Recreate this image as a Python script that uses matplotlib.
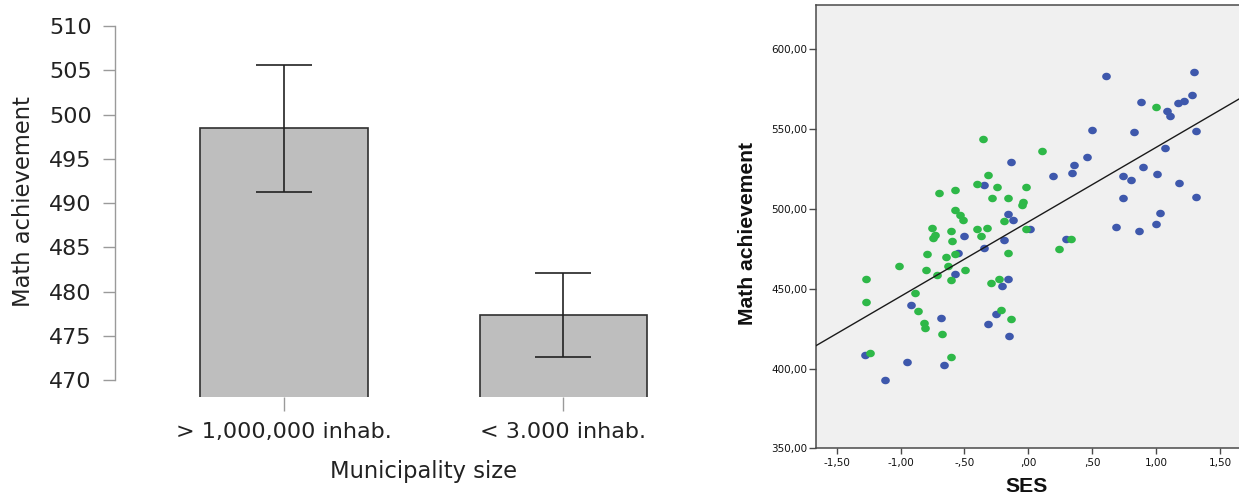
import numpy as np
import matplotlib
matplotlib.use('Agg')
import matplotlib.pyplot as plt
from matplotlib import font_manager as fm
from matplotlib.ticker import FuncFormatter

# ---------------- Left chart data ----------------
bar_categories = ['> 1,000,000 inhab.', '< 3.000 inhab.']
bar_means = [498.45, 477.40]
ci_lower = [491.20, 472.65]
ci_upper = [505.65, 482.15]
bar_yticks = [470, 475, 480, 485, 490, 495, 500, 505, 510]

# ---------------- Right chart data ----------------
blue_ses = [0.607, 1.292, 1.281, 0.880, 1.083, 1.109, 1.172, 1.216, 0.500, 0.826,
            1.315, 1.065, 0.456, 0.354, 0.338, 0.191, -0.135, 0.896, 0.737, 0.802,
            1.003, 1.182, 1.315, 0.737, 1.029, 0.688, 0.997, 0.862, 0.012, 0.292,
            -0.349, -0.156, -0.122, -0.188, -0.500, -0.344, -0.552, -0.578, -0.161, -0.209,
            -0.918, -0.685, -0.253, -0.313, -0.153, -1.276, -0.950, -0.659, -1.120]
blue_math = [583.1, 586.0, 571.2, 567.0, 561.2, 558.0, 566.2, 567.4, 549.2, 548.4,
             548.9, 538.4, 532.4, 527.6, 522.6, 520.6, 529.5, 526.1, 520.9, 518.2,
             521.9, 516.5, 507.5, 506.7, 497.7, 488.9, 490.8, 486.2, 487.4, 481.3,
             515.1, 496.6, 493.2, 480.5, 482.8, 475.5, 472.3, 459.1, 456.1, 451.8,
             439.5, 431.8, 434.1, 427.7, 420.1, 408.6, 404.0, 402.5, 393.0]
green_ses = [0.997, -0.353, 0.109, -0.313, -0.406, -0.247, -0.021, -0.703, -0.576, -0.284,
             -0.156, -0.040, -0.052, -0.576, -0.532, -0.514, -0.193, -0.018, -0.758, -0.406,
             -0.325, -0.607, -0.731, -0.750, -0.370, -0.595, 0.330, 0.239, -0.797, -0.578,
             -0.156, -0.643, -1.012, -0.627, -0.804, -0.495, -0.713, -1.267, -0.609, -0.233,
             -0.292, -1.267, -0.888, -0.867, -0.213, -0.135, -0.818, -0.808, -0.678, -1.240,
             -0.604]
green_math = [564.1, 543.7, 536.1, 521.3, 515.8, 513.5, 513.5, 509.7, 511.9, 507.0,
              507.0, 504.5, 502.4, 499.6, 495.9, 493.0, 492.4, 487.4, 487.8, 487.4,
              487.8, 486.3, 483.6, 481.7, 483.0, 479.6, 481.2, 474.9, 471.7, 471.8,
              472.5, 469.8, 464.4, 464.4, 461.6, 461.8, 458.6, 456.0, 455.5, 456.0,
              453.4, 441.8, 447.1, 435.9, 436.6, 430.9, 428.4, 425.3, 421.6, 409.8,
              407.1]
fit_intercept = 491.9
fit_slope = 46.7
ses_ticks = [-1.5, -1.0, -0.5, 0.0, 0.5, 1.0, 1.5]
math_ticks = [350, 400, 450, 500, 550, 600]

# ---------------- Fonts ----------------
left_family = ['DejaVu Sans']
left_size = 16.0
bold_family = ['Liberation Sans', 'DejaVu Sans']
bold_size = 15.2

W, H = 1239, 494
fig = plt.figure(figsize=(W / 100, H / 100), dpi=100)
fig.patch.set_facecolor('white')


def fx(p):
    return p / W


def fy(p):
    return 1 - p / H


# ================= LEFT PANEL =================
L0, L1 = 115.4, 732.0
ax1 = fig.add_axes([fx(L0), fy(397.3), (L1 - L0) / W, (397.3 - 26) / H])
ax1.set_facecolor('white')
xpos = np.arange(len(bar_categories))
means = np.array(bar_means)
lo = np.array(ci_lower)
hi = np.array(ci_upper)
ax1.bar(xpos, means, width=0.6, color='#bebebe', edgecolor='#303030', linewidth=1.2, zorder=2)
ax1.errorbar(xpos, means, yerr=[means - lo, hi - means], fmt='none', ecolor='#222222',
             elinewidth=1.2, capsize=20.5, capthick=1.2, zorder=3)
ax1.set_xlim(-0.6027, 1.6027)
ax1.set_ylim(468.05, 510)
for s in ['top', 'right', 'bottom']:
    ax1.spines[s].set_visible(False)
ax1.spines['left'].set_bounds(470, 510)
ax1.spines['left'].set_color('#9a9a9a')
ax1.spines['left'].set_linewidth(1.0)
ax1.set_yticks(bar_yticks)
ax1.set_xticks(xpos)
ax1.set_xticklabels(bar_categories)
ax1.tick_params(axis='y', length=8.4, width=1.0, pad=8.7, color='#9a9a9a', labelcolor='#222222')
ax1.tick_params(axis='x', length=10, width=1.0, pad=7.8, color='#9a9a9a', labelcolor='#222222')
for lab in ax1.get_xticklabels() + ax1.get_yticklabels():
    lab.set_family(left_family)
    lab.set_fontsize(left_size)

fig.text(fx(23.5), fy(202), 'Math achievement', rotation=90, ha='center', va='center',
         family=left_family, fontsize=16.3, color='#222222')
fig.text(fx(423.7), fy(477.5), 'Municipality size', ha='center', va='baseline',
         family=left_family, fontsize=16.3, color='#222222')

# ================= RIGHT PANEL =================
ax2 = fig.add_axes([fx(816), fy(448.3), (1239 - 816) / W + 0.002, (448.3 - 5) / H])
ax2.set_facecolor('#f0f0f0')
ax2.set_xlim(-1.6617, 1.6477 + 0.002 * W / 128)
ax2.set_ylim(350, 627.76)

t = np.linspace(0, 2 * np.pi, 40)
ell = np.column_stack([1.15 * np.cos(t), np.sin(t)])
ax2.scatter(blue_ses, blue_math, s=39, marker=ell, color='#3E58AC', linewidths=0, zorder=3)
ax2.scatter(green_ses, green_math, s=39, marker=ell, color='#2EB848', linewidths=0, zorder=4)

xs = np.array([-1.6617, 1.70])
ax2.plot(xs, fit_intercept + fit_slope * xs, color='#1a1a1a', lw=1.0, zorder=5)

for s in ['left', 'top', 'bottom']:
    ax2.spines[s].set_color('#4a4a4a')
    ax2.spines[s].set_linewidth(1.1)
ax2.spines['right'].set_visible(False)


def spss_fmt(v, pos=None):
    s = f"{abs(v):.2f}".replace('.', ',')
    if s.startswith('0,'):
        s = s[1:]
    return ('-' if v < 0 else '') + s


ax2.set_xticks(ses_ticks)
ax2.set_yticks(math_ticks)
ax2.xaxis.set_major_formatter(FuncFormatter(spss_fmt))
ax2.yaxis.set_major_formatter(FuncFormatter(lambda v, p: f"{v:.2f}".replace('.', ',')))
ax2.tick_params(axis='y', length=5, width=1.0, pad=1.2, color='#4a4a4a', labelsize=7.5, labelcolor='#111111')
ax2.tick_params(axis='x', length=4, width=1.0, pad=3, color='#4a4a4a', labelsize=7.5, labelcolor='#111111')
for lab in ax2.get_xticklabels() + ax2.get_yticklabels():
    lab.set_family(['DejaVu Sans'])

fig.text(fx(747.5), fy(233), 'Math achievement', rotation=90, ha='center', va='center',
         family=bold_family, fontsize=bold_size, fontweight='bold', color='#111111')
fig.text(fx(1026.7), fy(486), 'SES', ha='center', va='center',
         family=bold_family, fontsize=bold_size, fontweight='bold', color='#111111')

fig.savefig('out.png', dpi=100, facecolor='white')
